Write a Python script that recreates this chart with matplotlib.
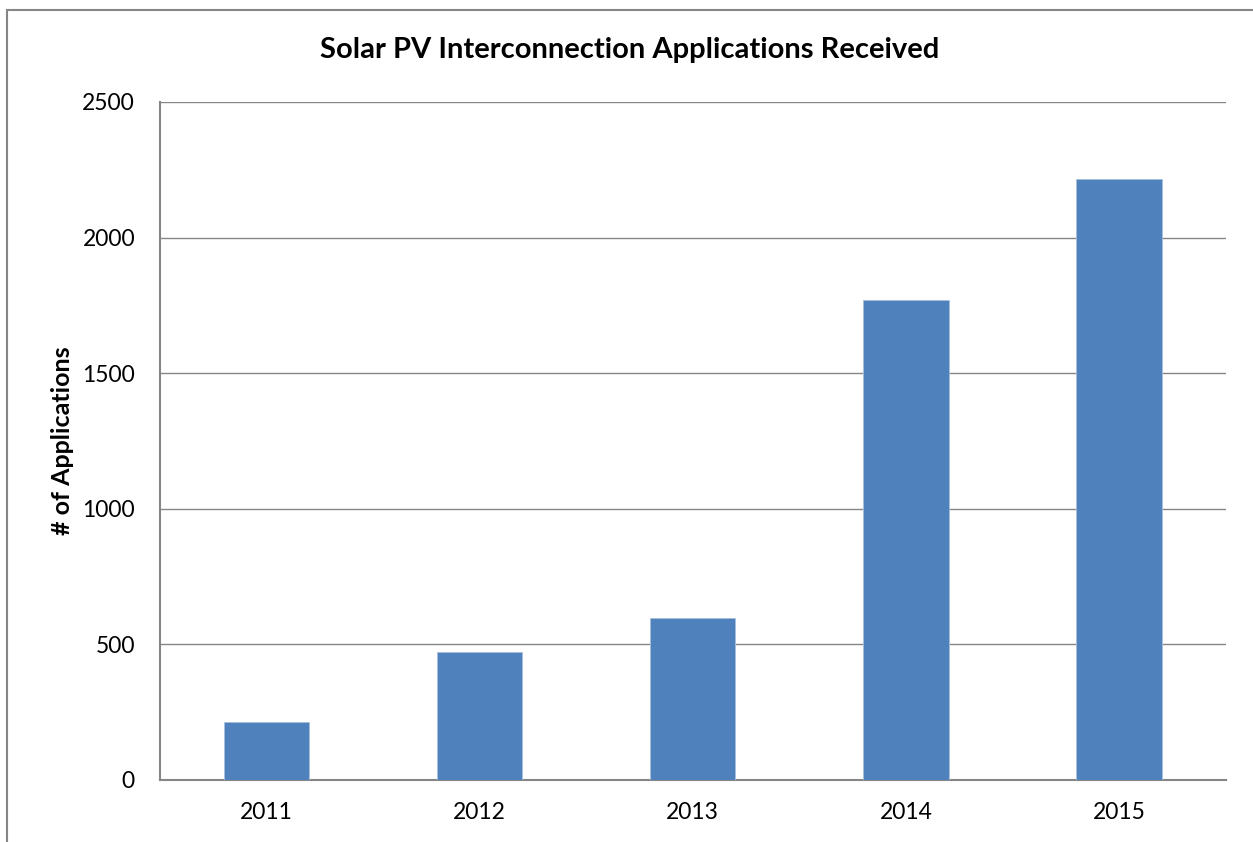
import matplotlib
matplotlib.use("Agg")
import matplotlib.pyplot as plt
from matplotlib.patches import Rectangle

years = ["2011", "2012", "2013", "2014", "2015"]
applications = [214, 473, 598, 1769, 2215]
yticks = [0, 500, 1000, 1500, 2000, 2500]

plt.rcParams['font.family'] = ['Lato', 'DejaVu Sans']

W, H = 1253, 842
fig = plt.figure(figsize=(W / 100, H / 100), dpi=100)
fig.patch.set_facecolor('white')

# outer chart frame
fig.patches.append(Rectangle((7 / W, -0.05), 1.1, (H - 10) / H + 0.05,
                             transform=fig.transFigure, fill=False,
                             edgecolor='#868686', linewidth=1.5))

ax = fig.add_axes([160 / W, (H - 780) / H, (1225.6 - 160) / W, (780 - 102) / H])
x = list(range(len(years)))
ax.bar(x, applications, width=0.4, color='#4F81BD', edgecolor='#A7C0DE',
       linewidth=0.6, zorder=3)

ax.set_xlim(-0.5, len(years) - 0.5)
ax.set_ylim(0, 2500)
ax.set_yticks(yticks)
ax.set_xticks(x)
ax.set_xticklabels(years)
ax.tick_params(axis='both', length=0, labelsize=16.5, colors='black')
ax.tick_params(axis='y', pad=18)
ax.tick_params(axis='x', pad=16)
ax.yaxis.grid(True, color='#868686', linewidth=1.0, zorder=0)
ax.set_axisbelow(True)
for s in ['top', 'right']:
    ax.spines[s].set_visible(False)
for s in ['left', 'bottom']:
    ax.spines[s].set_color('#868686')
    ax.spines[s].set_linewidth(1.5)

ax.set_ylabel('# of Applications', fontsize=18, fontweight='bold', labelpad=6)
fig.text(630 / W, (H - 50) / H, 'Solar PV Interconnection Applications Received',
         ha='center', va='center', fontsize=21, fontweight='bold')

fig.savefig('out.png', dpi=100)
